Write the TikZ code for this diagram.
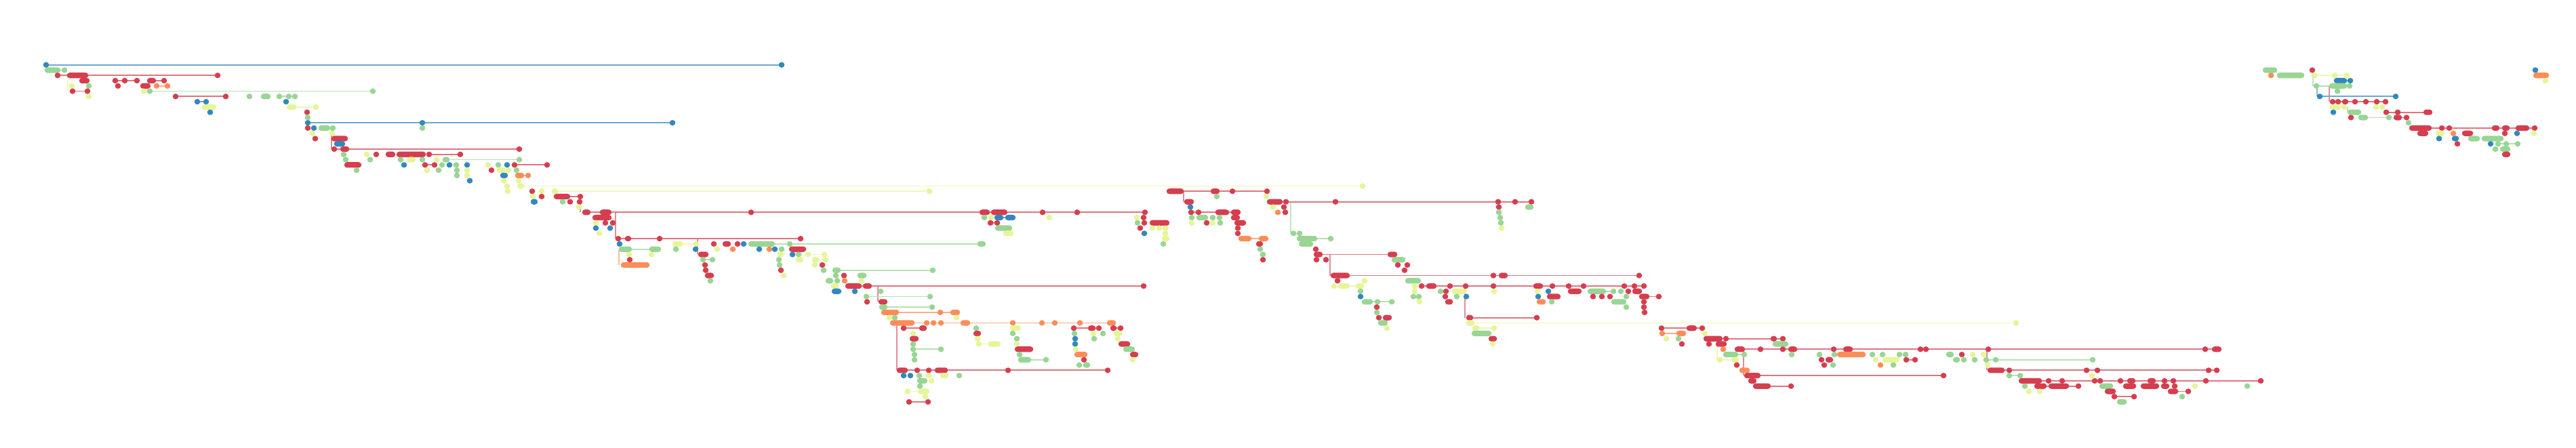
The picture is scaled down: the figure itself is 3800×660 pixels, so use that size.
\documentclass[tikz,border=0pt]{standalone}
\usetikzlibrary{shapes.misc}
\definecolor{cB}{HTML}{3288BD}
\definecolor{cG}{HTML}{99D594}
\definecolor{cY}{HTML}{E6F598}
\definecolor{cO}{HTML}{FC8D59}
\definecolor{cR}{HTML}{D53E4F}
\pgfdeclarelayer{bg}
\pgfdeclarelayer{paper}
\pgfsetlayers{paper,bg,main}
\tikzset{
  dotnode/.style={rounded rectangle, inner sep=0pt, minimum height=0.82mm, draw=none},
  spanline/.style={line width=0.18mm, draw=#1!72},
  vertline/.style={line width=0.11mm, draw=#1!60}
}
\newcommand\grp[4]{%
  \foreach \p/\q [count=\i] in {#4}{%
    \pgfmathsetmacro\gcx{(\p+\q)/2}%
    \pgfmathsetmacro\gwd{max(\q-\p+0.5,8.6)*0.1}%
    \node[dotnode,fill=#3,minimum width=\gwd mm] (#1-\i) at (\gcx,{-(95.7+7.77*#2)}) {};%
    \xdef\lastidx{\i}%
  }}
\newcommand\grpl[4]{%
  \grp{#1}{#2}{#3}{#4}%
  \begin{pgfonlayer}{bg}\draw[spanline=#3] (#1-1.center) -- (#1-\lastidx.center);\end{pgfonlayer}}
\newcommand\vcon[5]{%
  \coordinate (#1a) at (#3,{-(95.7+7.77*#4)});
  \coordinate (#1b) at (#3,{-(95.7+7.77*#5)});
  \begin{pgfonlayer}{bg}\draw[vertline=#2] (#1a) -- (#1b);\end{pgfonlayer}}
\begin{document}
\begin{tikzpicture}[x=0.1mm,y=0.1mm]
\begin{pgfonlayer}{paper}
\fill[white] (0,0) rectangle (3800,-660);
\end{pgfonlayer}
\useasboundingbox (0,0) rectangle (3800,-660);
% vertical connectors
\vcon{v1}{cR}{1323}{49}{58}
\vcon{v2}{cG}{1904}{26}{32}
\vcon{v3}{cR}{1962}{36}{40}
\vcon{v4}{cR}{2161}{42}{48}
\vcon{v5}{cR}{908}{28}{33}
\vcon{v6}{cR}{856}{25}{28}
\vcon{v7}{cY}{2533}{52}{56}
\vcon{v8}{cR}{2572}{54}{59}
\vcon{v9}{cO}{913}{35}{38}
\vcon{v10}{cR}{3436}{4}{7}
\vcon{v11}{cB}{3418}{4}{6}
\vcon{v12}{cG}{3412}{2}{4}
\vcon{v13}{cR}{1295}{42}{45}
\vcon{v14}{cR}{2931}{54}{58}
\vcon{v15}{cR}{489}{12}{16}
\vcon{v16}{cR}{1746}{24}{26}
\vcon{v18}{cR}{1029}{33}{36}
\vcon{v19}{cY}{100}{2}{5}
\vcon{v20}{cG}{3463}{8}{9}
% row 0
\grpl{g0a}{0}{cB}{68,1153}
% row 1
\grpl{g1a}{1}{cG}{66/89,95}
\grp{g1b}{1}{cG}{3338/3359}
\grp{g1c}{1}{cR}{3411}
\grp{g1d}{1}{cB}{3740}
% row 2
\grpl{g2a}{2}{cR}{85,99/130,321}
\grp{g2b}{2}{cO}{3350}
\grp{g2c}{2}{cG}{3359/3399}
\grpl{g2d}{2}{cY}{3414,3444,3462}
\grp{g2e}{2}{cO}{3737/3760}
% row 3
\grp{g3a}{3}{cR}{117/132}
\grpl{g3b}{3}{cR}{170,184,202}
\grpl{g3c}{3}{cR}{217/230,242}
\grpl{g3d}{3}{cB}{3443/3462,3467}
\grp{g3e}{3}{cY}{3755}
% row 4
\grp{g4a}{4}{cY}{106}
\grp{g4b}{4}{cG}{131}
\grp{g4c}{4}{cR}{174}
\grp{g4d}{4}{cR}{207/222}
\grpl{g4e}{4}{cO}{231,247}
\grpl{g4f}{4}{cG}{3417,3436/3462,3466}
% row 5
\grpl{g5a}{5}{cR}{107,129}
\grp{g5b}{5}{cY}{212}
\grpl{g5c}{5}{cG}{221,550}
\grp{g5d}{5}{cG}{3448}
% row 6
\grp{g6a}{6}{cY}{131}
\grpl{g6b}{6}{cR}{259,333}
\grp{g6c}{6}{cG}{368,385/399}
\grpl{g6d}{6}{cG}{412,426,435}
\grpl{g6e}{6}{cB}{3422,3534}
% row 7
\grpl{g7a}{7}{cB}{291,304}
\grp{g7b}{7}{cB}{422}
\grpl{g7c}{7}{cR}{3441,3449,3455/3464,3474,3490,3506,3519}
% row 8
\grp{g8a}{8}{cY}{298/319}
\grpl{g8b}{8}{cY}{423/437,466}
\grp{g8c}{8}{cY}{3437/3453,3458,3505,3514}
% row 9
\grp{g9a}{9}{cB}{310}
\grp{g9b}{9}{cR}{453}
\grp{g9c}{9}{cB}{3442}
\grp{g9d}{9}{cG}{3463/3483}
\grpl{g9e}{9}{cR}{3520,3537,3575/3588}
% row 10
\grp{g10a}{10}{cG}{454}
\grp{g10b}{10}{cR}{3468}
\grpl{g10c}{10}{cG}{3479/3493,3524}
\grpl{g10d}{10}{cR}{3531/3543,3550}
% row 11
\grpl{g11a}{11}{cB}{454,623,992}
\grp{g11b}{11}{cG}{3553}
% row 12
\grp{g12a}{12}{cR}{454}
\grp{g12b}{12}{cB}{463}
\grpl{g12c}{12}{cG}{470/487,491}
\grp{g12d}{12}{cG}{623}
\grpl{g12e}{12}{cR}{3554/3587,3602,3613,3676/3687,3691/3702,3711/3731,3739}
% row 13
\grp{g13a}{13}{cY}{461,490}
\grp{g13b}{13}{cR}{3566/3582}
\grp{g13c}{13}{cY}{3593/3606}
\grp{g13d}{13}{cO}{3619}
\grp{g13e}{13}{cR}{3632/3648,3695}
\grp{g13f}{13}{cB}{3713}
\grp{g13g}{13}{cY}{3738}
% row 14
\grp{g14a}{14}{cR}{465,489/513}
\grp{g14b}{14}{cB}{3598,3617/3627}
\grp{g14c}{14}{cG}{3641/3658,3661/3693}
% row 15
\grp{g15a}{15}{cB}{493/509}
\grp{g15b}{15}{cR}{3625}
\grp{g15c}{15}{cB}{3674}
\grpl{g15d}{15}{cG}{3685,3697,3714}
% row 16
\grpl{g16a}{16}{cR}{493,502/515,766}
\grp{g16b}{16}{cG}{3681,3688/3703}
% row 17
\grp{g17a}{17}{cG}{507}
\grp{g17b}{17}{cY}{541}
\grp{g17c}{17}{cR}{555,569/583,585/628}
\grpl{g17d}{17}{cR}{633,679}
\grp{g17e}{17}{cR}{3691/3703}
% row 18
\grp{g18a}{18}{cG}{510,546,591}
\grp{g18b}{18}{cY}{600/613}
\grp{g18c}{18}{cG}{623}
\grp{g18d}{18}{cY}{644}
\grpl{g18e}{18}{cG}{653/663,766}
% row 19
\grp{g19a}{19}{cR}{508/533}
\grp{g19b}{19}{cB}{596}
\grpl{g19c}{19}{cR}{627,641}
\grp{g19d}{19}{cG}{652}
\grp{g19e}{19}{cB}{663}
\grp{g19f}{19}{cG}{673}
\grp{g19g}{19}{cB}{689}
\grp{g19h}{19}{cY}{720}
\grp{g19i}{19}{cG}{735}
\grp{g19j}{19}{cB}{748}
\grpl{g19k}{19}{cR}{759,807}
% row 20
\grp{g20a}{20}{cG}{526}
\grp{g20b}{20}{cY}{630}
\grp{g20c}{20}{cG}{647,674}
\grp{g20d}{20}{cY}{689}
\grp{g20e}{20}{cR}{725}
\grp{g20f}{20}{cY}{733/746,750}
\grp{g20g}{20}{cG}{762}
% row 21
\grp{g21a}{21}{cG}{674}
\grp{g21b}{21}{cY}{689}
\grp{g21c}{21}{cB}{738/749}
\grpl{g21d}{21}{cO}{760/773,779}
% row 22
\grp{g22a}{22}{cB}{693}
\grp{g22b}{22}{cY}{743,765}
% row 23
\grp{g23a}{23}{cY}{748}
\grpl{g23b}{23}{cY}{763/773,2010}
% row 24
\grp{g24a}{24}{cY}{749}
\grp{g24b}{24}{cR}{785}
\grp{g24c}{24}{cY}{799}
\grpl{g24d}{24}{cY}{814/823,1371}
\grpl{g24e}{24}{cR}{1721/1746,1786/1799,1818,1869}
% row 25
\grp{g25a}{25}{cY}{786}
\grp{g25b}{25}{cR}{799}
\grpl{g25c}{25}{cR}{817/841,856}
\grp{g25d}{25}{cG}{1795}
\grp{g25e}{25}{cY}{1868}
% row 26
\grp{g26a}{26}{cB}{783/793}
\grp{g26b}{26}{cG}{830}
\grp{g26c}{26}{cR}{841,855}
\grp{g26d}{26}{cR}{1747/1761}
\grpl{g26e}{26}{cR}{1869/1892,1897,1970,2210,2235,2259}
% row 27
\grp{g27a}{27}{cY}{854}
\grp{g27b}{27}{cB}{1756}
\grp{g27c}{27}{cY}{1878}
\grp{g27d}{27}{cR}{1894,2211}
\grp{g27e}{27}{cG}{2250/2262}
% row 28
\grpl{g28a}{28}{cR}{859/871,885/902,1108,1445/1460,1462/1486,1538,1589,1689}
\grpl{g28b}{28}{cR}{1757,1768,1793/1813,1816/1830}
\grp{g28c}{28}{cO}{1885}
\grp{g28d}{28}{cR}{1896}
\grp{g28e}{28}{cG}{2211}
% row 29
\grp{g29a}{29}{cR}{874/902}
\grp{g29b}{29}{cG}{1452}
\grp{g29c}{29}{cY}{1462}
\grpl{g29d}{29}{cB}{1467/1480,1483/1498}
\grp{g29e}{29}{cY}{1548,1677}
\grp{g29f}{29}{cR}{1687}
\grp{g29g}{29}{cG}{1758,1765/1782,1789,1799}
\grp{g29h}{29}{cR}{1816/1829}
\grp{g29i}{29}{cG}{2213}
% row 30
\grp{g30a}{30}{cY}{879}
\grp{g30b}{30}{cR}{893,904}
\grpl{g30c}{30}{cR}{1461,1471}
\grp{g30d}{30}{cG}{1678}
\grp{g30e}{30}{cR}{1688,1696/1725}
\grp{g30f}{30}{cY}{1758}
\grp{g30g}{30}{cR}{1780}
\grp{g30h}{30}{cY}{1789}
\grp{g30i}{30}{cG}{1800}
\grp{g30j}{30}{cR}{1821/1838}
\grp{g30k}{30}{cG}{2214}
% row 31
\grp{g31a}{31}{cB}{879,900}
\grp{g31b}{31}{cG}{1468/1493}
\grp{g31c}{31}{cR}{1682}
\grp{g31d}{31}{cY}{1700,1710,1719}
\grp{g31e}{31}{cR}{1826}
\grp{g31f}{31}{cY}{2215}
% row 32
\grp{g32a}{32}{cY}{884}
\grp{g32b}{32}{cY}{1480/1495}
\grp{g32c}{32}{cB}{1688}
\grp{g32d}{32}{cY}{1719}
\grp{g32e}{32}{cR}{1826}
\grp{g32f}{32}{cG}{1908,1917}
% row 33
\grpl{g33a}{33}{cR}{912,922/931,973,1181}
\grp{g33b}{33}{cY}{1714/1725}
\grpl{g33c}{33}{cO}{1827/1846,1857/1871}
\grpl{g33d}{33}{cG}{1913/1943,1963}
% row 34
\grp{g34a}{34}{cB}{914}
\grpl{g34b}{34}{cY}{992/1007,1027}
\grp{g34c}{34}{cR}{1053,1066/1078,1088}
\grp{g34d}{34}{cB}{1097}
\grpl{g34e}{34}{cG}{1104/1143,1165,1442/1454}
\grp{g34f}{34}{cG}{1716}
\grp{g34g}{34}{cR}{1853/1863}
\grp{g34h}{34}{cG}{1916/1937}
% row 35
\grpl{g35a}{35}{cG}{913/932,958/975}
\grp{g35b}{35}{cG}{997}
\grp{g35c}{35}{cB}{1026}
\grp{g35d}{35}{cY}{1058}
\grp{g35e}{35}{cO}{1081}
\grp{g35f}{35}{cB}{1120}
\grp{g35g}{35}{cO}{1135}
\grp{g35h}{35}{cB}{1143}
\grp{g35i}{35}{cG}{1153}
\grp{g35j}{35}{cR}{1164/1189}
\grp{g35k}{35}{cG}{1859}
\grp{g35l}{35}{cR}{1941}
% row 36
\grp{g36a}{36}{cY}{928,961}
\grp{g36b}{36}{cR}{1030/1045}
\grp{g36c}{36}{cY}{1147/1156}
\grp{g36d}{36}{cB}{1169}
\grp{g36e}{36}{cG}{1178}
\grpl{g36f}{36}{cY}{1192,1216}
\grp{g36g}{36}{cG}{1863}
\grpl{g36h}{36}{cR}{1938/1951,2047/2061}
% row 37
\grp{g37a}{37}{cR}{929}
\grpl{g37b}{37}{cG}{1037,1051}
\grp{g37c}{37}{cG}{1149}
\grp{g37d}{37}{cY}{1174/1185}
\grpl{g37e}{37}{cY}{1198/1208,1218}
\grp{g37f}{37}{cR}{1863,1942,1956}
\grp{g37g}{37}{cG}{2053/2073}
% row 38
\grp{g38a}{38}{cO}{916/958}
\grp{g38b}{38}{cR}{1040}
\grp{g38c}{38}{cG}{1150}
\grp{g38d}{38}{cY}{1202}
\grp{g38e}{38}{cR}{1213,2062,2076}
% row 39
\grp{g39a}{39}{cR}{1041,1152}
\grp{g39b}{39}{cG}{1215}
\grpl{g39c}{39}{cG}{1228/1240,1376}
\grp{g39d}{39}{cR}{2072}
% row 40
\grp{g40a}{40}{cR}{1040/1053}
\grp{g40b}{40}{cY}{1156}
\grp{g40c}{40}{cG}{1233}
\grp{g40d}{40}{cR}{1245}
\grp{g40e}{40}{cG}{1265/1278}
\grpl{g40f}{40}{cR}{1963/1991,2203,2211/2224,2418}
% row 41
\grp{g41a}{41}{cG}{1048,1218/1229,1235}
\grp{g41b}{41}{cO}{1246}
\grp{g41c}{41}{cY}{1271}
\grp{g41d}{41}{cR}{1973}
\grp{g41e}{41}{cY}{2013}
\grp{g41f}{41}{cG}{2073/2096}
% row 42
\grp{g42a}{42}{cY}{1226/1237}
\grpl{g42b}{42}{cR}{1247/1271,1273/1286,1687}
\grpl{g42c}{42}{cY}{1968,1974/1991,2000/2012}
\grp{g42d}{42}{cY}{2087}
\grpl{g42e}{42}{cR}{2097,2104/2119,2139,2162,2203,2262/2276,2290,2310/2318,2336,2396,2411,2425}
% row 43
\grp{g43a}{43}{cB}{1227/1241,1261}
\grp{g43b}{43}{cG}{1299}
\grp{g43c}{43}{cG}{2007}
\grp{g43d}{43}{cY}{2087}
\grp{g43e}{43}{cG}{2125}
\grp{g43f}{43}{cR}{2133}
\grp{g43g}{43}{cY}{2142/2163,2204,2268}
\grp{g43h}{43}{cB}{2284}
\grp{g43i}{43}{cR}{2313/2333}
\grpl{g43j}{43}{cG}{2342/2369,2380}
\grp{g43k}{43}{cG}{2391}
\grp{g43l}{43}{cR}{2402,2408/2422}
% row 44
\grpl{g44a}{44}{cG}{1278,1372}
\grp{g44b}{44}{cB}{2007}
\grp{g44c}{44}{cG}{2085,2093}
\grp{g44d}{44}{cR}{2132}
\grp{g44e}{44}{cG}{2149}
\grp{g44f}{44}{cB}{2163,2269}
\grp{g44g}{44}{cR}{2282/2302,2350,2363,2375}
\grp{g44h}{44}{cG}{2399}
\grpl{g44i}{44}{cR}{2418/2433,2447}
% row 45
\grp{g45a}{45}{cR}{1279,1296/1309}
\grpl{g45b}{45}{cG}{2009/2025,2032,2053}
\grp{g45c}{45}{cY}{2094}
\grp{g45d}{45}{cR}{2132/2143}
\grp{g45e}{45}{cO}{2267/2280}
\grp{g45f}{45}{cG}{2289,2377/2399}
\grp{g45g}{45}{cR}{2425}
% row 46
\grpl{g46a}{46}{cG}{1297/1309,1375}
\grp{g46b}{46}{cR}{2031}
\grp{g46c}{46}{cG}{2399}
\grp{g46d}{46}{cR}{2425}
% row 47
\grpl{g47a}{47}{cO}{1300/1326,1387,1402/1416}
\grp{g47b}{47}{cG}{2031}
\grp{g47c}{47}{cR}{2426}
% row 48
\grp{g48a}{48}{cY}{1312}
\grp{g48b}{48}{cG}{1320}
\grp{g48c}{48}{cY}{1411}
\grp{g48d}{48}{cR}{2034,2040/2053}
\grpl{g48e}{48}{cR}{2163/2173,2267}
% row 49
\grpl{g49a}{49}{cO}{1313/1349,1367,1377,1388,1417/1431,1494,1537,1556,1593,1633/1646}
\grp{g49b}{49}{cG}{2033/2047}
\grpl{g49c}{49}{cY}{2163/2175,2974}
% row 50
\grpl{g50a}{50}{cR}{1333,1356/1367}
\grp{g50b}{50}{cG}{1440}
\grp{g50c}{50}{cY}{1490/1506}
\grpl{g50d}{50}{cR}{1584,1605/1616,1621}
\grpl{g50e}{50}{cR}{1638/1647,1653}
\grp{g50f}{50}{cY}{2046}
\grpl{g50g}{50}{cY}{2172/2182,2204}
\grpl{g50h}{50}{cR}{2451,2488/2503,2511}
% row 51
\grp{g51a}{51}{cY}{1347}
\grp{g51b}{51}{cR}{1436/1447}
\grp{g51c}{51}{cG}{1494,1585}
\grp{g51d}{51}{cY}{1613}
\grp{g51e}{51}{cG}{1627}
\grp{g51f}{51}{cY}{1643/1655}
\grp{g51g}{51}{cG}{2171/2200}
\grpl{g51h}{51}{cO}{2452,2473/2487}
\grp{g51i}{51}{cY}{2515}
% row 52
\grp{g52a}{52}{cR}{1342/1355}
\grp{g52b}{52}{cY}{1442}
\grp{g52c}{52}{cG}{1500}
\grp{g52d}{52}{cB}{1586}
\grp{g52e}{52}{cG}{1614}
\grp{g52f}{52}{cY}{1649}
\grp{g52g}{52}{cR}{2196/2208}
\grp{g52h}{52}{cY}{2458}
\grp{g52i}{52}{cG}{2476}
\grp{g52j}{52}{cR}{2513/2541}
\grpl{g52k}{52}{cR}{2546,2612/2621,2630}
% row 53
\grp{g53a}{53}{cG}{1347}
\grpl{g53b}{53}{cY}{1444,1458/1476}
\grp{g53c}{53}{cY}{1500}
\grp{g53d}{53}{cB}{1586}
\grp{g53e}{53}{cR}{1650/1667}
\grp{g53f}{53}{cY}{2202}
\grp{g53g}{53}{cR}{2481,2521,2531/2547}
\grp{g53h}{53}{cG}{2615/2638}
% row 54
\grpl{g54a}{54}{cG}{1347,1388}
\grp{g54b}{54}{cR}{1497/1524}
\grp{g54c}{54}{cY}{1587}
\grp{g54d}{54}{cG}{1657/1674}
\grp{g54e}{54}{cO}{2542}
\grpl{g54f}{54}{cR}{2559/2574,2597,2630,2638/2651,2705,2719/2733,2833,2841,2933,3253,3263/3277}
% row 55
\grp{g55a}{55}{cG}{1349,1504}
\grp{g55b}{55}{cO}{1585/1604}
\grp{g55c}{55}{cR}{1667/1679}
\grpl{g55d}{55}{cG}{2542/2564,2573}
\grp{g55e}{55}{cG}{2643,2684,2706}
\grp{g55f}{55}{cO}{2710/2752}
\grp{g55g}{55}{cG}{2762,2777,2802,2811,2871/2882}
\grp{g55h}{55}{cR}{2894}
\grp{g55i}{55}{cY}{2910,2926}
% row 56
\grp{g56a}{56}{cG}{1349}
\grpl{g56b}{56}{cG}{1502/1521,1543}
\grp{g56c}{56}{cR}{1599}
\grp{g56d}{56}{cY}{1671}
\grpl{g56e}{56}{cY}{2537,2554/2565}
\grp{g56f}{56}{cR}{2687,2693/2704}
\grp{g56g}{56}{cY}{2767,2777/2802}
\grpl{g56h}{56}{cR}{2812,2825}
\grp{g56i}{56}{cG}{2881/2891,2897,2913}
\grpl{g56j}{56}{cG}{2930,2944,3087}
% row 57
\grp{g57a}{57}{cG}{1592,1598/1608}
\grp{g57b}{57}{cR}{2562,2691}
\grp{g57c}{57}{cG}{2704}
\grp{g57d}{57}{cO}{2774}
\grp{g57e}{57}{cG}{2793}
\grp{g57f}{57}{cY}{2932}
% row 58
\grpl{g58a}{58}{cR}{1323/1339,1353,1370,1379/1398,1487,1634}
\grp{g58b}{58}{cO}{2566/2581}
\grpl{g58c}{58}{cR}{2932/2957,2964,3078,3094,3258,3270}
% row 59
\grp{g59a}{59}{cB}{1333,1343}
\grp{g59b}{59}{cG}{1356}
\grp{g59c}{59}{cY}{1370,1387/1399}
\grp{g59d}{59}{cG}{1415}
\grpl{g59e}{59}{cR}{2573/2597,2867}
\grpl{g59f}{59}{cG}{2960/2968,2980}
\grp{g59g}{59}{cY}{3086}
% row 60
\grp{g60a}{60}{cG}{1353/1368}
\grp{g60b}{60}{cY}{1374}
\grp{g60c}{60}{cR}{2579/2591}
\grpl{g60d}{60}{cR}{2978/3012,3022,3042,3090,3098,3128,3138/3150,3168/3180,3193,3206,3254,3335}
% row 61
\grp{g61a}{61}{cG}{1357}
\grpl{g61b}{61}{cR}{2586/2612,2642}
\grp{g61c}{61}{cG}{2987}
\grpl{g61d}{61}{cR}{3001/3019,3022/3052,3066}
\grp{g61e}{61}{cG}{3097/3117}
\grp{g61f}{61}{cR}{3132/3151,3158/3185,3188/3200,3208}
\grp{g61g}{61}{cY}{3238}
\grp{g61h}{61}{cG}{3315}
% row 62
\grpl{g62a}{62}{cY}{1339,1354/1371}
\grp{g62b}{62}{cY}{2993,3009}
\grp{g62c}{62}{cR}{3105/3121}
\grpl{g62d}{62}{cR}{3198/3213,3228}
% row 63
\grp{g63a}{63}{cY}{1365}
\grpl{g63b}{63}{cR}{3119,3148}
\grp{g63c}{63}{cG}{3219}
% row 64
\grpl{g64a}{64}{cR}{1341,1369}
\grp{g64b}{64}{cG}{3123/3137}
\end{tikzpicture}
\end{document}
